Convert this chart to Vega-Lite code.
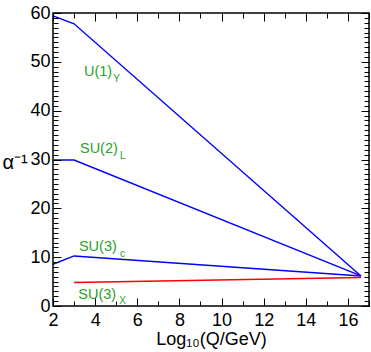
{
  "$schema": "https://vega.github.io/schema/vega-lite/v6.json",
  "width": 316,
  "height": 293,
  "autosize": {"type": "none"},
  "padding": {"left": 53, "top": 13, "right": 2, "bottom": 46},
  "background": "white",
  "config": {
    "view": {"stroke": "black", "strokeWidth": 1.5},
    "font": "Liberation Sans",
    "axis": {
      "grid": false,
      "domain": false,
      "tickColor": "black",
      "labelColor": "black",
      "titleColor": "black"
    }
  },
  "datasets": {
    "lines": [
      {"series": "U(1)Y", "group": "SM", "x": 2, "y": 59.4},
      {"series": "U(1)Y", "group": "SM", "x": 3, "y": 57.8},
      {"series": "U(1)Y", "group": "SM", "x": 16.62, "y": 6.15},
      {"series": "SU(2)L", "group": "SM", "x": 2, "y": 29.9},
      {"series": "SU(2)L", "group": "SM", "x": 3, "y": 29.9},
      {"series": "SU(2)L", "group": "SM", "x": 16.62, "y": 6.15},
      {"series": "SU(3)c", "group": "SM", "x": 2, "y": 8.55},
      {"series": "SU(3)c", "group": "SM", "x": 3, "y": 10.25},
      {"series": "SU(3)c", "group": "SM", "x": 16.62, "y": 6.15},
      {"series": "SU(3)X", "group": "X", "x": 3, "y": 4.8},
      {"series": "SU(3)X", "group": "X", "x": 16.62, "y": 5.85}
    ],
    "labels": [
      {"label": "U(1)", "x": 3.47, "y": 47.16},
      {"label": "SU(2)", "x": 3.28, "y": 31.27},
      {"label": "SU(3)", "x": 3.23, "y": 11.2},
      {"label": "SU(3)", "x": 3.2, "y": 1.49}
    ],
    "subs": [
      {"label": "Y", "x": 4.86, "y": 45.93},
      {"label": "L", "x": 5.18, "y": 30.1},
      {"label": "c", "x": 5.18, "y": 10.03},
      {"label": "X", "x": 5.15, "y": 0.41}
    ]
  },
  "layer": [
    {
      "data": {"name": "lines"},
      "transform": [{"filter": "datum.group === 'SM'"}],
      "mark": {"type": "line", "strokeWidth": 1.4, "color": "#0000ff"},
      "encoding": {
        "x": {
          "field": "x", "type": "quantitative",
          "scale": {"domain": [2, 17], "nice": false, "zero": false},
          "axis": {
            "orient": "bottom",
            "zindex": 1,
            "ticks": true,
            "values": [2, 4, 6, 8, 10, 12, 14, 16],
            "offset": -8,
            "tickSize": 8,
            "labelPadding": 5,
            "labelFontSize": 18,
            "labelFont": "Liberation Sans",
            "labelFlush": false,
            "title": "Log₁₀(Q/GeV)",
            "titleFont": "Liberation Sans",
            "titleFontWeight": "normal",
            "titleFontSize": 18,
            "titleBaseline": "alphabetic",
            "titleY": 46
          }
        },
        "y": {
          "field": "y", "type": "quantitative",
          "scale": {"domain": [0, 60], "nice": false, "zero": false},
          "axis": {
            "orient": "left",
            "zindex": 1,
            "ticks": true,
            "values": [0, 10, 20, 30, 40, 50, 60],
            "offset": -8,
            "tickSize": 8,
            "labelPadding": 3,
            "labelFontSize": 18,
            "labelFont": "Liberation Sans",
            "title": "α⁻¹",
            "titleFont": "Liberation Sans",
            "titleFontWeight": "normal",
            "titleAngle": 0,
            "titleAlign": "left",
            "titleBaseline": "alphabetic",
            "titleX": -59,
            "titleY": 155,
            "titleFontSize": 20
          }
        },
        "detail": {"field": "series", "type": "nominal"}
      }
    },
    {
      "data": {"name": "lines"},
      "transform": [{"filter": "datum.group === 'X'"}],
      "mark": {"type": "line", "strokeWidth": 1.4, "color": "#ff0000"},
      "encoding": {
        "x": {
          "field": "x", "type": "quantitative",
          "scale": {"domain": [2, 17], "nice": false, "zero": false},
          "axis": {
            "orient": "bottom",
            "zindex": 1,
            "ticks": true,
            "values": [3, 5, 7, 9, 11, 13, 15, 17],
            "offset": -5,
            "tickSize": 5,
            "labels": false,
            "title": null
          }
        },
        "y": {
          "field": "y", "type": "quantitative",
          "scale": {"domain": [0, 60], "nice": false, "zero": false},
          "axis": {
            "orient": "left",
            "zindex": 1,
            "ticks": true,
            "values": [1,2,3,4,5,6,7,8,9,11,12,13,14,15,16,17,18,19,21,22,23,24,25,26,27,28,29,31,32,33,34,35,36,37,38,39,41,42,43,44,45,46,47,48,49,51,52,53,54,55,56,57,58,59],
            "offset": -5,
            "tickSize": 5,
            "labels": false,
            "title": null
          }
        },
        "detail": {"field": "series", "type": "nominal"}
      }
    },
    {
      "data": {"name": "labels"},
      "mark": {"type": "text", "align": "left", "baseline": "alphabetic", "fontSize": 14.5, "color": "#2ca02c", "font": "Liberation Sans"},
      "encoding": {
        "x": {
          "field": "x", "type": "quantitative",
          "scale": {"domain": [2, 17], "nice": false, "zero": false},
          "axis": {
            "orient": "top",
            "zindex": 1,
            "ticks": true,
            "values": [2, 4, 6, 8, 10, 12, 14, 16],
            "offset": -8,
            "tickSize": 8,
            "labels": false,
            "title": null
          }
        },
        "y": {
          "field": "y", "type": "quantitative",
          "scale": {"domain": [0, 60], "nice": false, "zero": false},
          "axis": {
            "orient": "right",
            "zindex": 1,
            "ticks": true,
            "values": [0, 10, 20, 30, 40, 50, 60],
            "offset": -8,
            "tickSize": 8,
            "labels": false,
            "title": null
          }
        },
        "text": {"field": "label", "type": "nominal"}
      }
    },
    {
      "data": {"name": "subs"},
      "mark": {"type": "text", "align": "left", "baseline": "alphabetic", "fontSize": 10, "color": "#2ca02c", "font": "Liberation Sans"},
      "encoding": {
        "x": {
          "field": "x", "type": "quantitative",
          "scale": {"domain": [2, 17], "nice": false, "zero": false},
          "axis": {
            "orient": "top",
            "zindex": 1,
            "ticks": true,
            "values": [3, 5, 7, 9, 11, 13, 15, 17],
            "offset": -5,
            "tickSize": 5,
            "labels": false,
            "title": null
          }
        },
        "y": {
          "field": "y", "type": "quantitative",
          "scale": {"domain": [0, 60], "nice": false, "zero": false},
          "axis": {
            "orient": "right",
            "zindex": 1,
            "ticks": true,
            "values": [1,2,3,4,5,6,7,8,9,11,12,13,14,15,16,17,18,19,21,22,23,24,25,26,27,28,29,31,32,33,34,35,36,37,38,39,41,42,43,44,45,46,47,48,49,51,52,53,54,55,56,57,58,59],
            "offset": -5,
            "tickSize": 5,
            "labels": false,
            "title": null
          }
        },
        "text": {"field": "label", "type": "nominal"}
      }
    }
  ],
  "resolve": {
    "scale": {"x": "independent", "y": "independent"},
    "axis": {"x": "independent", "y": "independent"}
  }
}
